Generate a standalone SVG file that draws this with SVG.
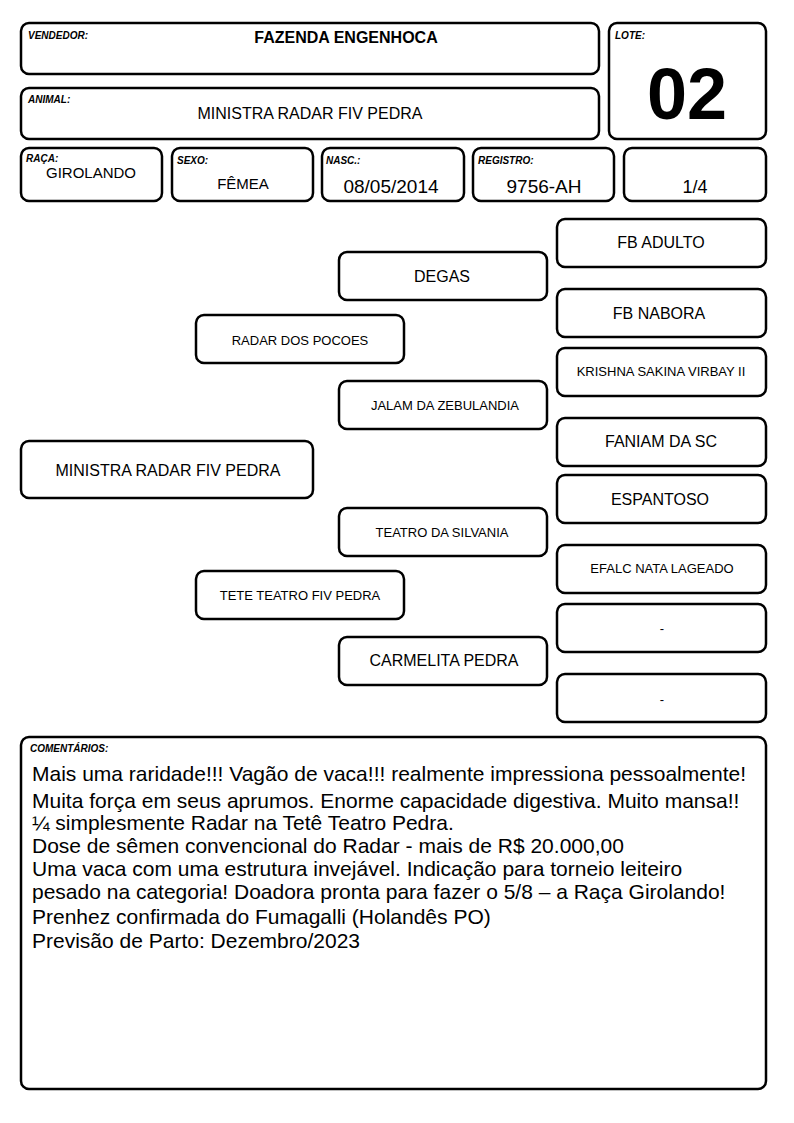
<svg xmlns="http://www.w3.org/2000/svg" width="794" height="1123" viewBox="0 0 794 1123">
<style>
.box{fill:#fff;stroke:#000;stroke-width:2.5}
.lbl{font-family:"Liberation Sans",Arial,sans-serif;font-size:10px;font-weight:bold;font-style:italic;fill:#000}
.t{font-family:"Liberation Sans",Arial,sans-serif;fill:#000;text-anchor:middle}
.c{font-family:"Liberation Sans",Arial,sans-serif;font-size:21px;fill:#000}
</style>
<rect width="794" height="1123" fill="#fff"/>
<g id="vendedor"><rect class="box" x="21" y="23" width="578" height="51" rx="8"/><text class="lbl" x="28" y="39">VENDEDOR:</text><text class="t" x="346" y="43" font-size="16" font-weight="bold">FAZENDA ENGENHOCA</text></g>
<g id="animal"><rect class="box" x="21" y="88" width="578" height="51" rx="8"/><text class="lbl" x="28" y="103">ANIMAL:</text><text class="t" x="310" y="119" font-size="16">MINISTRA RADAR FIV PEDRA</text></g>
<g id="lote"><rect class="box" x="609" y="23" width="157" height="116" rx="8"/><text class="lbl" x="615" y="39">LOTE:</text><text class="t" x="687" y="119" font-size="72" font-weight="bold">02</text></g>
<g id="raca"><rect class="box" x="21" y="148" width="141" height="53" rx="8"/><text class="lbl" x="26" y="162">RAÇA:</text><text class="t" x="91" y="178" font-size="15">GIROLANDO</text></g>
<g id="sexo"><rect class="box" x="172" y="148" width="141" height="53" rx="8"/><text class="lbl" x="177" y="164">SEXO:</text><text class="t" x="243" y="189" font-size="15">FÊMEA</text></g>
<g id="nasc"><rect class="box" x="322" y="148" width="142" height="53" rx="8"/><text class="lbl" x="326" y="164">NASC.:</text><text class="t" x="391" y="193" font-size="19">08/05/2014</text></g>
<g id="registro"><rect class="box" x="473" y="148" width="141" height="53" rx="8"/><text class="lbl" x="478" y="164">REGISTRO:</text><text class="t" x="544" y="193" font-size="19">9756-AH</text></g>
<g id="grau"><rect class="box" x="624" y="148" width="142" height="53" rx="8"/><text class="t" x="695" y="193" font-size="18">1/4</text></g>
<g id="connectors"></g>
<g id="p0"><rect class="box" x="21" y="441" width="292" height="57" rx="8"/><text class="t" x="168" y="476" font-size="16">MINISTRA RADAR FIV PEDRA</text></g>
<g id="p1"><rect class="box" x="196" y="315" width="208" height="48" rx="8"/><text class="t" x="300" y="345" font-size="13">RADAR DOS POCOES</text></g>
<g id="p2"><rect class="box" x="196" y="571" width="208" height="48" rx="8"/><text class="t" x="300" y="600" font-size="13">TETE TEATRO FIV PEDRA</text></g>
<g id="p3"><rect class="box" x="339" y="252" width="208" height="48" rx="8"/><text class="t" x="442" y="282" font-size="16">DEGAS</text></g>
<g id="p4"><rect class="box" x="339" y="381" width="208" height="48" rx="8"/><text class="t" x="445" y="410" font-size="13">JALAM DA ZEBULANDIA</text></g>
<g id="p5"><rect class="box" x="339" y="508" width="208" height="48" rx="8"/><text class="t" x="442" y="537" font-size="13">TEATRO DA SILVANIA</text></g>
<g id="p6"><rect class="box" x="339" y="637" width="208" height="48" rx="8"/><text class="t" x="444" y="666" font-size="16">CARMELITA PEDRA</text></g>
<g id="p7"><rect class="box" x="557" y="219" width="209" height="48" rx="8"/><text class="t" x="661" y="248" font-size="16">FB ADULTO</text></g>
<g id="p8"><rect class="box" x="557" y="289" width="209" height="48" rx="8"/><text class="t" x="659" y="319" font-size="16">FB NABORA</text></g>
<g id="p9"><rect class="box" x="557" y="348" width="209" height="48" rx="8"/><text class="t" x="661" y="376" font-size="13">KRISHNA SAKINA VIRBAY II</text></g>
<g id="p10"><rect class="box" x="557" y="418" width="209" height="48" rx="8"/><text class="t" x="661" y="447" font-size="16">FANIAM DA SC</text></g>
<g id="p11"><rect class="box" x="557" y="475" width="209" height="48" rx="8"/><text class="t" x="660" y="505" font-size="16">ESPANTOSO</text></g>
<g id="p12"><rect class="box" x="557" y="545" width="209" height="48" rx="8"/><text class="t" x="662" y="573" font-size="13">EFALC NATA LAGEADO</text></g>
<g id="p13"><rect class="box" x="557" y="604" width="209" height="48" rx="8"/><text class="t" x="662" y="633" font-size="13">-</text></g>
<g id="p14"><rect class="box" x="557" y="674" width="209" height="48" rx="8"/><text class="t" x="662" y="704" font-size="13">-</text></g>
<g id="comentarios"><rect class="box" x="21" y="737" width="745" height="352" rx="8"/><text class="lbl" x="30" y="752">COMENTÁRIOS:</text>
<text class="c" x="32" y="781">Mais uma raridade!!! Vagão de vaca!!! realmente impressiona pessoalmente!</text>
<text class="c" x="32" y="808">Muita força em seus aprumos. Enorme capacidade digestiva. Muito mansa!!</text>
<text class="c" x="32" y="830">¼ simplesmente Radar na Tetê Teatro Pedra.</text>
<text class="c" x="32" y="853">Dose de sêmen convencional do Radar - mais de R$ 20.000,00</text>
<text class="c" x="32" y="876">Uma vaca com uma estrutura invejável. Indicação para torneio leiteiro</text>
<text class="c" x="32" y="899">pesado na categoria! Doadora pronta para fazer o 5/8 – a Raça Girolando!</text>
<text class="c" x="32" y="924">Prenhez confirmada do Fumagalli (Holandês PO)</text>
<text class="c" x="32" y="948">Previsão de Parto: Dezembro/2023</text>
</g>
</svg>
